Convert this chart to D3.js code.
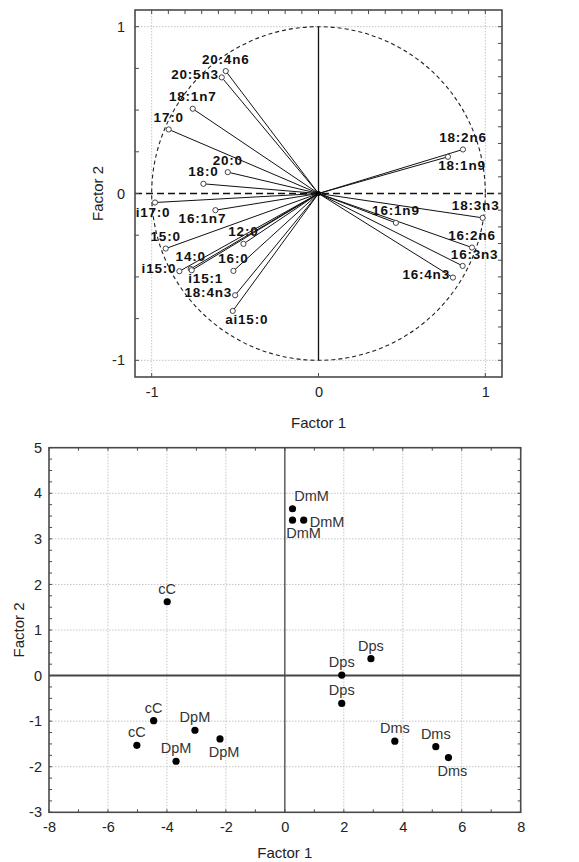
<!DOCTYPE html>
<html>
<head>
<meta charset="utf-8">
<script src="https://cdn.jsdelivr.net/npm/d3@7"></script>
<style>
  html, body { margin: 0; padding: 0; background: #fff; }
  svg { display: block; }
  text { font-family: "Liberation Sans", Arial, sans-serif; }
</style>
</head>
<body>
<svg id="chart" width="579" height="862"></svg>
<script>
// ---------- Data: factor loadings (top chart) ----------
const loadNames = ["20:4n6","20:5n3","18:1n7","17:0","20:0","18:0","i17:0","16:1n7","15:0","12:0",
                   "14:0","i15:0","i15:1","16:0","18:4n3","ai15:0",
                   "18:2n6","18:1n9","18:3n3","16:1n9","16:2n6","16:3n3","16:4n3"];
const loadF1 = [-0.556,-0.58,-0.754,-0.898,-0.544,-0.69,-0.98,-0.618,-0.916,-0.45,
                -0.766,-0.834,-0.76,-0.51,-0.50,-0.514,
                0.866,0.776,0.984,0.464,0.92,0.864,0.806];
const loadF2 = [0.734,0.696,0.508,0.384,0.128,0.058,-0.054,-0.10,-0.33,-0.302,
                -0.452,-0.466,-0.46,-0.464,-0.61,-0.704,
                0.264,0.22,-0.146,-0.176,-0.324,-0.434,-0.504];
const loadLabelPos = ["N","W","N","N","N","N","S","SW","N","N",
                      "N","W","SE","N","W","SE",
                      "N","SE","NW","N","N","NE","W"];
const loadTicks = [-1, 0, 1];

// ---------- Data: factor scores (bottom chart) ----------
const scoreNames = ["cC","DmM","DmM","DmM","Dps","Dps","Dps","cC","cC","DpM","DpM","DpM","Dms","Dms","Dms"];
const scoreF1 = [-3.99,0.26,0.26,0.64,2.92,1.93,1.93,-4.45,-5.02,-3.05,-2.2,-3.69,3.73,5.12,5.55];
const scoreF2 = [1.62,3.66,3.41,3.41,0.37,0.01,-0.61,-0.99,-1.53,-1.2,-1.39,-1.88,-1.44,-1.56,-1.8];
const scoreLabelPos = ["N","NE","SE","E","N","N","N","N","N","N","S","N","N","N","S"];
const scoreXTicks = [-8,-6,-4,-2,0,2,4,6,8];
const scoreYTicks = [-3,-2,-1,0,1,2,3,4,5];

const axisTitleX = "Factor 1";
const axisTitleY = "Factor 2";

// ---------- Drawing ----------
const svg = d3.select("#chart");
const frameColor = "#4a4a4a";
const gridColor = "#c4c4c4";

function drawFrame(x0, x1, y0, y1) {
  svg.append("rect").attr("x", x0).attr("y", y0).attr("width", x1 - x0).attr("height", y1 - y0)
    .attr("fill", "none").attr("stroke", frameColor).attr("stroke-width", 1.6);
}
function minorTicks(vals, scale, side, edge, len) {
  vals.forEach(v => {
    const p = scale(v);
    let line;
    if (side === "left") line = [edge, p, edge + len, p];
    else if (side === "right") line = [edge, p, edge - len, p];
    else if (side === "top") line = [p, edge, p, edge + len];
    else line = [p, edge, p, edge - len];
    svg.append("line").attr("x1", line[0]).attr("y1", line[1]).attr("x2", line[2]).attr("y2", line[3])
      .attr("stroke", frameColor).attr("stroke-width", 1);
  });
}

// ===== Top chart =====
const tx = d3.scaleLinear().domain([-1.1, 1.1]).range([135, 502]);
const ty = d3.scaleLinear().domain([-1.1, 1.1]).range([377, 10]);

[-1, 1].forEach(v => {
  svg.append("line").attr("x1", tx(v)).attr("x2", tx(v)).attr("y1", ty(1.1)).attr("y2", ty(-1.1))
    .attr("stroke", gridColor).attr("stroke-dasharray", "1.5,1.5");
  svg.append("line").attr("y1", ty(v)).attr("y2", ty(v)).attr("x1", tx(-1.1)).attr("x2", tx(1.1))
    .attr("stroke", gridColor).attr("stroke-dasharray", "1.5,1.5");
});

svg.append("circle").attr("cx", tx(0)).attr("cy", ty(0)).attr("r", tx(1) - tx(0))
  .attr("fill", "none").attr("stroke", "#222").attr("stroke-width", 1.1).attr("stroke-dasharray", "4,3");

svg.append("line").attr("x1", tx(-1.1)).attr("x2", tx(1.1)).attr("y1", ty(0)).attr("y2", ty(0))
  .attr("stroke", "#111").attr("stroke-width", 1.4).attr("stroke-dasharray", "7,4");
svg.append("line").attr("x1", tx(0)).attr("x2", tx(0)).attr("y1", ty(1)).attr("y2", ty(-1))
  .attr("stroke", "#111").attr("stroke-width", 1.3);

const loadData = loadNames.map((n, i) => ({ name: n, x: loadF1[i], y: loadF2[i], pos: loadLabelPos[i] }));
svg.append("g").selectAll("line").data(loadData).join("line")
  .attr("x1", tx(0)).attr("y1", ty(0)).attr("x2", d => tx(d.x)).attr("y2", d => ty(d.y))
  .attr("stroke", "#111").attr("stroke-width", 1);
svg.append("circle").attr("cx", tx(0)).attr("cy", ty(0)).attr("r", 2.5).attr("fill", "#000");
svg.append("g").selectAll("circle").data(loadData).join("circle")
  .attr("cx", d => tx(d.x)).attr("cy", d => ty(d.y)).attr("r", 2.6)
  .attr("fill", "#fff").attr("stroke", "#444").attr("stroke-width", 1);

const topOff = { N: [0, -12], S: [-2, 10], SW: [-13, 8], SE: [14, 8.5], NE: [12, -11], NW: [-7, -12] };
svg.append("g").selectAll("text").data(loadData).join("text")
  .attr("x", d => d.pos === "W" ? tx(d.x) - 3 : tx(d.x) + topOff[d.pos][0])
  .attr("y", d => d.pos === "W" ? ty(d.y) - 3 : ty(d.y) + topOff[d.pos][1])
  .attr("text-anchor", d => d.pos === "W" ? "end" : "middle")
  .attr("dominant-baseline", "central")
  .attr("font-size", 13.5).attr("font-weight", "bold").attr("letter-spacing", 0.8)
  .attr("fill", "#111")
  .text(d => d.name);

drawFrame(tx(-1.1), tx(1.1), ty(1.1), ty(-1.1));
minorTicks(d3.range(-4, 5).map(i => i / 4), ty, "left", tx(-1.1), 4);
minorTicks(d3.range(-10, 11).map(i => i / 10), ty, "right", tx(1.1), 4);
minorTicks(d3.range(-10, 11).map(i => i / 10), tx, "top", ty(1.1), 4);
minorTicks(loadTicks, tx, "bottom", ty(-1.1), 4);

const tAxisX = svg.append("g").attr("transform", `translate(0,${ty(-1.1)})`)
  .call(d3.axisBottom(tx).tickValues(loadTicks).tickSize(0).tickPadding(10).tickFormat(d3.format("d")));
const tAxisY = svg.append("g").attr("transform", `translate(${tx(-1.1)},0)`)
  .call(d3.axisLeft(ty).tickValues(loadTicks).tickSize(0).tickPadding(10).tickFormat(d3.format("d")));
[tAxisX, tAxisY].forEach(g => {
  g.select(".domain").remove();
  g.selectAll("text").attr("font-size", 14.5).attr("fill", "#222")
    .style("font-family", "'Liberation Sans', Arial, sans-serif")
    .text(d => d < 0 ? "-" + Math.abs(d) : d);
});

svg.append("text").attr("x", tx(0)).attr("y", 422).attr("text-anchor", "middle")
  .attr("dominant-baseline", "central").attr("font-size", 15).attr("fill", "#222").text(axisTitleX);
svg.append("text").attr("transform", `translate(97,${ty(0)}) rotate(-90)`).attr("text-anchor", "middle")
  .attr("dominant-baseline", "central").attr("font-size", 15).attr("fill", "#222").text(axisTitleY);

// ===== Bottom chart =====
const bx = d3.scaleLinear().domain([-8, 8]).range([49, 520.7]);
const by = d3.scaleLinear().domain([-3, 5]).range([812.3, 447.7]);

scoreXTicks.filter(v => v !== 0 && v !== -8 && v !== 8).forEach(v => {
  svg.append("line").attr("x1", bx(v)).attr("x2", bx(v)).attr("y1", by(5)).attr("y2", by(-3))
    .attr("stroke", gridColor).attr("stroke-dasharray", "1.5,1.5");
});
scoreYTicks.filter(v => v !== 0 && v !== -3 && v !== 5).forEach(v => {
  svg.append("line").attr("y1", by(v)).attr("y2", by(v)).attr("x1", bx(-8)).attr("x2", bx(8))
    .attr("stroke", gridColor).attr("stroke-dasharray", "1.5,1.5");
});
svg.append("line").attr("x1", bx(0)).attr("x2", bx(0)).attr("y1", by(5)).attr("y2", by(-3))
  .attr("stroke", "#333").attr("stroke-width", 1.2);
svg.append("line").attr("x1", bx(-8)).attr("x2", bx(8)).attr("y1", by(0)).attr("y2", by(0))
  .attr("stroke", "#444").attr("stroke-width", 2);

drawFrame(bx(-8), bx(8), by(5), by(-3));
minorTicks(d3.range(-12, 21).map(i => i / 4), by, "left", bx(-8), 3);
minorTicks(d3.range(-12, 21).map(i => i / 4), by, "right", bx(8), 3);
minorTicks(d3.range(-8, 9), bx, "bottom", by(-3), 3);
minorTicks(d3.range(-8, 9), bx, "top", by(5), 3);

const scoreData = scoreNames.map((n, i) => ({ name: n, x: scoreF1[i], y: scoreF2[i], pos: scoreLabelPos[i] }));
svg.append("g").selectAll("circle").data(scoreData).join("circle")
  .attr("cx", d => bx(d.x)).attr("cy", d => by(d.y)).attr("r", 3.6).attr("fill", "#000");

const botOff = { N: [0, -13], S: [4, 13], NE: [19, -12.7], SE: [11, 13.3] };
svg.append("g").selectAll("text").data(scoreData).join("text")
  .attr("x", d => d.pos === "E" ? bx(d.x) + 6 : bx(d.x) + botOff[d.pos][0])
  .attr("y", d => d.pos === "E" ? by(d.y) + 2 : by(d.y) + botOff[d.pos][1])
  .attr("text-anchor", d => d.pos === "E" ? "start" : "middle")
  .attr("dominant-baseline", "central")
  .attr("font-size", 14.5).attr("fill", "#333")
  .text(d => d.name);

const bAxisX = svg.append("g").attr("transform", `translate(0,${by(-3)})`)
  .call(d3.axisBottom(bx).tickValues(scoreXTicks).tickSize(0).tickPadding(9).tickFormat(d3.format("d")));
const bAxisY = svg.append("g").attr("transform", `translate(${bx(-8)},0)`)
  .call(d3.axisLeft(by).tickValues(scoreYTicks).tickSize(0).tickPadding(7).tickFormat(d3.format("d")));
[bAxisX, bAxisY].forEach(g => {
  g.select(".domain").remove();
  g.selectAll("text").attr("font-size", 14.5).attr("fill", "#222")
    .style("font-family", "'Liberation Sans', Arial, sans-serif")
    .text(d => d < 0 ? "-" + Math.abs(d) : d);
});

svg.append("text").attr("x", bx(0)).attr("y", 852).attr("text-anchor", "middle")
  .attr("dominant-baseline", "central").attr("font-size", 15).attr("fill", "#222").text(axisTitleX);
svg.append("text").attr("transform", `translate(18,${by(1)}) rotate(-90)`).attr("text-anchor", "middle")
  .attr("dominant-baseline", "central").attr("font-size", 15).attr("fill", "#222").text(axisTitleY);
</script>
</body>
</html>
